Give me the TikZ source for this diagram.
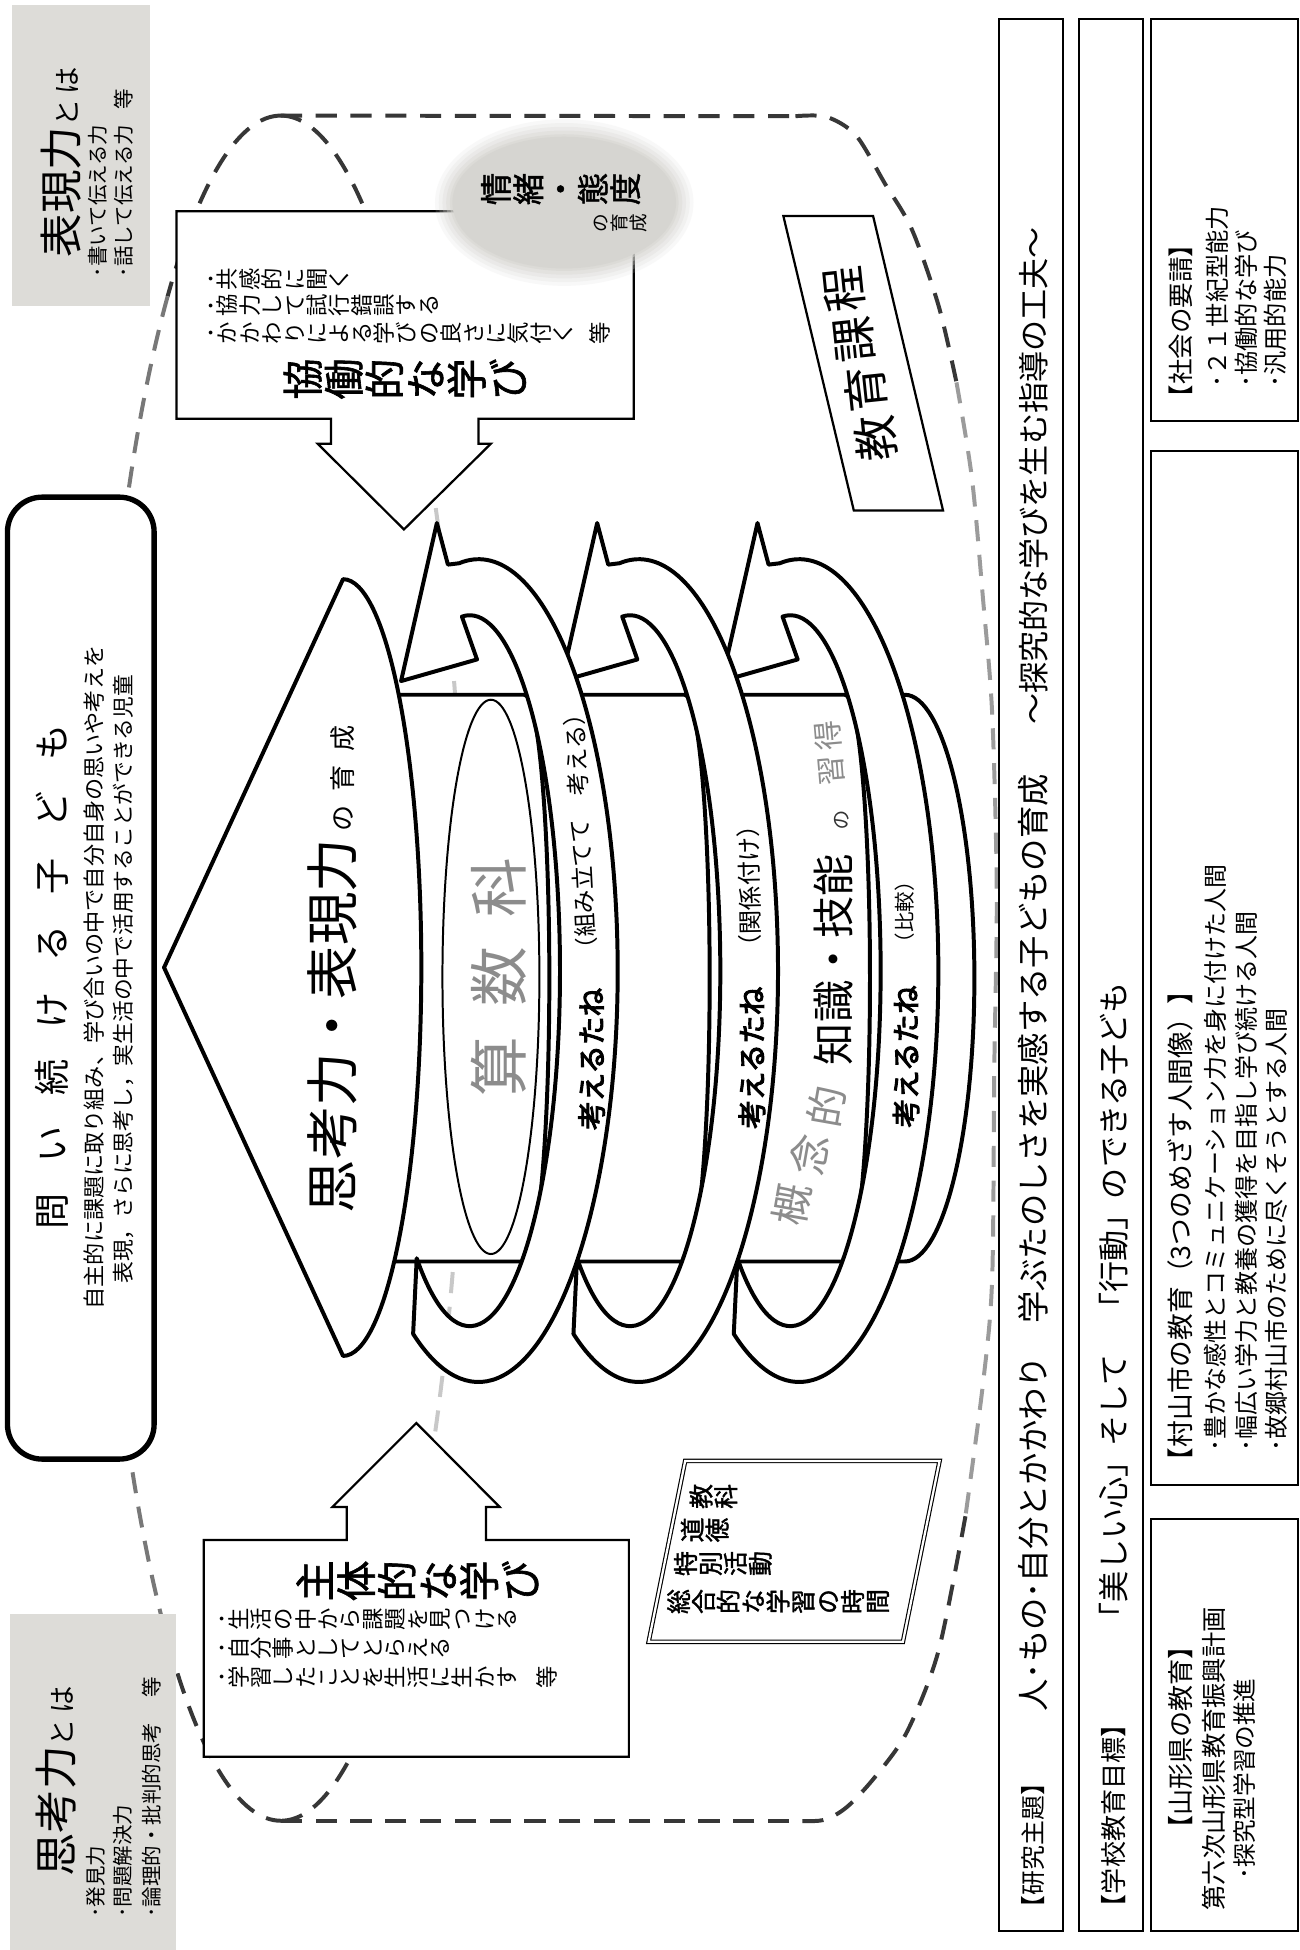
\documentclass[tikz,border=0pt]{standalone}
\usepackage{fontspec}
\usepackage{graphicx}
\setmainfont{Noto Sans CJK JP}
\newfontfamily\jpb{Noto Sans CJK JP}[FakeBold=1.5]
\newfontfamily\jph{Noto Sans CJK JP}[FakeBold=3.5]
\ExplSyntaxOn
\NewDocumentCommand\tate{m}{\tl_map_inline:nn{#1}{\rotatebox[origin=c]{90}{\makebox[1em]{\vrule~width~0pt~height~.88em~depth~.12em\smash{##1}}}}}
\ExplSyntaxOff
\newcommand\fsz[1]{\fontsize{#1}{#1}\selectfont}
\definecolor{jgrey}{RGB}{221,220,216}
\definecolor{jgreyb}{RGB}{214,213,209}
\definecolor{dkd}{RGB}{55,55,55}
\definecolor{mdd}{RGB}{120,120,120}
\definecolor{rgd}{RGB}{155,155,155}
\definecolor{ltd}{RGB}{200,200,200}
\definecolor{sgrey}{RGB}{140,140,140}
\begin{document}
\begin{tikzpicture}[x=1pt,y=-1pt,
  rtx/.style={inner sep=0pt,outer sep=0pt,rotate=90,anchor=west},
  rtb/.style={inner sep=0pt,outer sep=0pt,rotate=90,anchor=base west},
  rtc/.style={inner sep=0pt,outer sep=0pt,rotate=90},
  vtx/.style={inner sep=0pt,outer sep=0pt,anchor=west},
  hvy/.style={line width=3.2pt,line join=round},
  dsh/.style={line width=3.2pt,dash pattern=on 17pt off 11pt},
  boxl/.style={line width=1.6pt}]
\useasboundingbox (0,0) rectangle (1046,1569);
\fill[white] (0,0) rectangle (1046,1569);

% ---------- dashed container ----------
\draw[dsh,dkd] (226,779) ++(270:148 and 686) arc[start angle=270,end angle=232,x radius=148,y radius=686];
\draw[dsh,mdd] (226,779) ++(232:148 and 686) arc[start angle=232,end angle=128,x radius=148,y radius=686];
\draw[dsh,dkd] (226,779) ++(128:148 and 686) arc[start angle=128,end angle=90,x radius=148,y radius=686];
\draw[dsh,dkd] (226,779) ++(270:148 and 686) arc[start angle=270,end angle=305,x radius=148,y radius=686];
\draw[dsh,ltd] (226,779) ++(305:148 and 686) arc[start angle=305,end angle=415,x radius=148,y radius=686];
\draw[dsh,dkd] (226,779) ++(415:148 and 686) arc[start angle=415,end angle=450,x radius=148,y radius=686];
\draw[dsh,dkd] (226,93) -- (640,93.5);
\draw[dsh,dkd] plot[smooth] coordinates {(640,93.5) (665,94) (688.8,109) (712,147.7) (733.7,184.6) (755.2,246) (769.6,307.7)};
\draw[dsh,rgd] plot[smooth] coordinates {(769.6,307.7) (782,384.6) (791,482.5) (798.3,574) (802,717.6) (800,861) (798.3,1029) (791,1112.7) (776.8,1220)};
\draw[dsh,dkd] plot[smooth] coordinates {(776.8,1220) (755.2,1328) (730,1393) (705,1428.6) (681.6,1453.8) (662,1464.5) (635,1465)};
\draw[dsh,dkd] (635,1465) -- (226,1465);

% ---------- cylinder ----------
\fill[white] (300,559) rectangle (728,1015);
\fill[white] (728,559) arc[start angle=270,end angle=450,x radius=56,y radius=228] -- cycle;
\draw[hvy] (300,559) -- (728,559) arc[start angle=270,end angle=450,x radius=56,y radius=228] -- (300,1015);
\draw[line width=1.6pt] (395,786) ellipse[x radius=39,y radius=223];
\foreach \s in {0,129,258} \draw[hvy] (422+\s,559) arc[start angle=270,end angle=450,x radius=20,y radius=228];

% ---------- spiral arrows ----------
\foreach \s in {258,129,0}{
\begin{scope}[shift={(\s,0)}]
\filldraw[hvy,fill=white] (369.4,453.2) arc[start angle=262,end angle=478,x radius=112,y radius=331]
  -- (335.3,1012.4) arc[start angle=486,end angle=265,x radius=72.6,y radius=286]
  -- (383.8,530.6) -- (322.7,548) -- (351.5,420.8) -- (360.4,454.3) -- cycle;
\end{scope}}

% ---------- cone ----------
\filldraw[hvy,fill=white] (132,778.5) -- (276,466) arc[start angle=270,end angle=450,x radius=63,y radius=312.5] -- cycle;

% ---------- central texts ----------
\node[rtb] (cone) at (284,976) {\fsz{43}思考力・表現力\fsz{21}\kern6pt の\kern11pt 育\kern11pt 成};
\node[rtc,font=\fsz{48},text=sgrey] (sansu) at (401,786) {算\kern24pt 数\kern24pt 科};
\node[rtc,font={\jph\fsz{23}}] (k1) at (476,852) {考えるたね};
\node[rtc,font={\jph\fsz{23}}] (k2) at (605,851) {考えるたね};
\node[rtc,font={\jph\fsz{23}}] (k3) at (729,850) {考えるたね};
\node[inner sep=0pt,rotate=93,font=\fsz{19}] (p1) at (467,669) {（組み立てて　考える）};
\node[inner sep=0pt,rotate=91,font=\fsz{19.5}] (p2) at (603,713) {（関係付け）};
\node[rtc,font=\fsz{16.5}] (p3) at (728,734) {（比較）};
\node[rtc,font=\fsz{34}] (chishiki) at (671,772) {知識・技能};
\node[inner sep=0pt,rotate=80,font=\fsz{33},text=sgrey] (g1) at (637,969) {概};
\node[inner sep=0pt,rotate=80,font=\fsz{33},text=sgrey] (g2) at (651,929) {念};
\node[inner sep=0pt,rotate=80,font=\fsz{33},text=sgrey] (g3) at (665,890) {的};
\node[inner sep=0pt,rotate=95,font=\fsz{16},text=black!80] (no) at (677,660) {の};
\node[inner sep=0pt,rotate=95,font=\fsz{24},text=sgrey] (shu) at (669,620) {習};
\node[inner sep=0pt,rotate=95,font=\fsz{24},text=sgrey] (toku) at (666.5,592) {得};

% ---------- kyodo box ----------
\filldraw[fill=white,line width=1.8pt] (142,170) -- (510,170) -- (510,337) -- (385,337) -- (385,357) -- (395,357) -- (325,426) -- (255.6,357) -- (266.4,357) -- (266.4,337) -- (142,337) -- cycle;
\node[vtx,font=\fsz{18}] (ky1) at (165,224.6) {･\tate{共感的に聞く}};
\node[vtx,font=\fsz{18}] (ky2) at (165,246) {･\tate{協力して試行錯誤する}};
\node[vtx,font=\fsz{18}] (ky3) at (165,268) {･\tate{かかわりによる学びの良さに気付く}\kern12pt\tate{等}};
\node[vtx,font={\jpb\fsz{33}}] (kyt) at (227,305) {\tate{協働的な学び}};

% ---------- emotion ellipse ----------
\foreach \i/\o in {14/0.15,11/0.2,8/0.25,5/0.35,2/0.5}
  \fill[jgreyb,opacity=\o] (454,163) ellipse[x radius=90+\i,y radius=53+\i];
\fill[jgreyb] (454,163) ellipse[x radius=90,y radius=53];
\node[vtx,font={\jpb\fsz{26}}] (jo) at (386,152) {\tate{情緒・態度}};
\node[vtx,font=\fsz{15}] (jo2) at (476,179.5) {\tate{の育成}};

% ---------- kyoiku katei ----------
\filldraw[fill=white,line width=1.8pt] (630.3,173.8) -- (702.5,173.8) -- (758.8,410.8) -- (687,410.8) -- cycle;
\node[inner sep=0pt,rotate=96,font=\fsz{37}] (kt1) at (704.8,353.1) {教};
\node[inner sep=0pt,rotate=96,font=\fsz{37}] (kt2) at (696.3,313) {育};
\node[inner sep=0pt,rotate=96,font=\fsz{37}] (kt3) at (687.7,273) {課};
\node[inner sep=0pt,rotate=96,font=\fsz{37}] (kt4) at (679.2,232.9) {程};

% ---------- shutai box ----------
\filldraw[fill=white,line width=1.8pt] (164,1413.5) -- (164,1239) -- (279,1239) -- (279,1212.5) -- (267.5,1212.5) -- (335,1145) -- (402,1212.5) -- (391,1212.5) -- (391,1239) -- (506,1239) -- (506,1413.5) -- cycle;
\node[vtx,font={\jpb\fsz{33}}] (sht) at (237,1272) {\tate{主体的な学び}};
\node[vtx,font=\fsz{18}] (sh1) at (174,1303) {･\tate{生活の中から課題を見つける}};
\node[vtx,font=\fsz{18}] (sh2) at (174,1326) {･\tate{自分事としてとらえる}};
\node[vtx,font=\fsz{18}] (sh3) at (174,1349.6) {･\tate{学習したことを生活に生かす}\kern14pt\tate{等}};

% ---------- subjects box ----------
\filldraw[fill=white,double,double distance=1.8pt,line width=0.9pt] (551.3,1175.5) -- (756,1175.5) -- (726.5,1321) -- (521.9,1321) -- cycle;
\node[vtx,font={\jpb\fsz{20}}] (s1) at (554,1204) {\tate{教科}};
\node[vtx,font={\jpb\fsz{20}}] (s2) at (547,1231) {\tate{道徳}};
\node[vtx,font={\jpb\fsz{20}}] (s3) at (541.6,1258) {\tate{特別活動}};
\node[vtx,font={\jpb\fsz{20}}] (s4) at (536,1288.6) {\tate{総合的な学習の時間}};

% ---------- top title rounded box ----------
\filldraw[fill=white,line width=4.3pt,rounded corners=28pt] (6,400) rectangle (124,1174);
\node[rtc,font=\fsz{29}] (toi) at (42,786) {問\kern25pt い\kern25pt 続\kern25pt け\kern25pt る\kern25pt 子\kern25pt ど\kern25pt も};
\node[rtc,font=\fsz{17.8}] (toi1) at (75.4,786.5) {自主的に課題に取り組み、学び合いの中で自分自身の思いや考えを};
\node[rtc,font=\fsz{17.5}] (toi2) at (99,788) {表現，さらに思考し，実生活の中で活用することができる児童};

% ---------- grey boxes ----------
\fill[jgrey] (10,4) rectangle (121,246);
\node[rtb] (hy) at (62.5,207) {\fsz{35}表現力\fsz{22}と\kern4pt は};
\node[rtx,font=\fsz{16.5}] (hy1) at (79,223) {･書いて伝える力};
\node[rtx,font=\fsz{16.5}] (hy2) at (99.5,223) {･話して伝える力};
\node[rtc,font=\fsz{16.5}] (hy3) at (99.5,80) {等};

\fill[jgrey] (8,1299) rectangle (142,1569);
\node[rtb] (sk) at (58.5,1510) {\fsz{35}思考力\fsz{22}と\kern4pt は};
\node[rtx,font=\fsz{16.5}] (sk1) at (77,1543) {･発見力};
\node[rtx,font=\fsz{16.5}] (sk2) at (99,1543) {･問題解決力};
\node[rtx,font=\fsz{16.5}] (sk3) at (122,1543) {･論理的・批判的思考};
\node[rtc,font=\fsz{16.5}] (sk4) at (122,1357.5) {等};

% ---------- right boxes ----------
\draw[boxl] (804,15) rectangle (855,1554);
\draw[boxl] (868,15) rectangle (920,1554);
\draw[boxl] (926,15) rectangle (1044,339);
\draw[boxl] (926,363) rectangle (1044,1195);
\draw[boxl] (926,1222) rectangle (1044,1554);

\node[rtx,font=\fsz{20}] (b1) at (831.5,1545) {【研究主題】};
\node[rtx,font=\fsz{26}] (b1a) at (831.5,1377) {人･もの･自分とかかわり　学ぶたのしさを実感する子どもの育成};
\node[rtx,font=\fsz{25}] (b1b) at (831.5,583) {～探究的な学びを生む指導の工夫～};

\node[rtx,font=\fsz{21}] (b2) at (896,1545) {【学校教育目標】};
\node[rtx,font=\fsz{25}] (b2a) at (896,1314) {「美しい心」そして　「行動」のできる子ども};

\node[rtx,font=\fsz{20.5}] (b3) at (950,330) {【社会の要請】};
\node[rtx,font=\fsz{19.5}] (b3a) at (979.6,312) {･２１世紀型能力};
\node[rtx,font=\fsz{19.5}] (b3b) at (1003,312) {･協働的な学び};
\node[rtx,font=\fsz{19.5}] (b3c) at (1026,312) {･汎用的能力};

\node[rtx,font=\fsz{21.5}] (b4) at (950,1186) {【村山市の教育（3つのめざす人間像）】};
\node[rtx,font=\fsz{19.3}] (b4a) at (978,1168) {･豊かな感性とコミュニケーション力を身に付けた人間};
\node[rtx,font=\fsz{19.3}] (b4b) at (1003,1168) {･幅広い学力と教養の獲得を目指し学び続ける人間};
\node[rtx,font=\fsz{19.3}] (b4c) at (1027,1168) {･故郷村山市のために尽くそうとする人間};

\node[rtx,font=\fsz{21}] (b5) at (950,1482) {【山形県の教育】};
\node[rtx,font=\fsz{20.3}] (b5a) at (977,1537) {第六次山形県教育振興計画};
\node[rtx,font=\fsz{19}] (b5b) at (1001,1512) {･探究型学習の推進};
\end{tikzpicture}
\end{document}
